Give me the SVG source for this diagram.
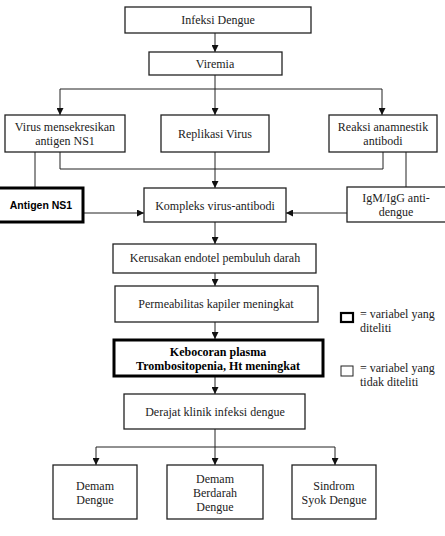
<svg xmlns="http://www.w3.org/2000/svg" width="445" height="536" viewBox="0 0 445 536">
<style>
.box{fill:#fff;stroke:#222;stroke-width:1.3}
.thick{fill:#fff;stroke:#000;stroke-width:3}
.t{font-family:"Liberation Serif","Times New Roman",serif;font-size:12px;fill:#222;text-anchor:middle}
.b{font-weight:bold;fill:#000}
.l{text-anchor:start}
.c{fill:none;stroke:#222;stroke-width:1}
</style>
<defs>
<marker id="ah" viewBox="0 0 8 8" refX="8" refY="4" markerWidth="7" markerHeight="7" markerUnits="userSpaceOnUse" orient="auto">
<path d="M0,0 L8,4 L0,8 Z" fill="#111"/>
</marker>
</defs>
<rect width="445" height="536" fill="#fff"/>
<g id="connectors">
<path class="c" d="M215,33 V52" marker-end="url(#ah)"/>
<path class="c" d="M215,75 V115" marker-end="url(#ah)"/>
<path class="c" d="M60,89 H382"/>
<path class="c" d="M60,89 V115" marker-end="url(#ah)"/>
<path class="c" d="M382,89 V115" marker-end="url(#ah)"/>
<path class="c" d="M60,152 V169 H383 V152"/>
<path class="c" d="M215,152 V188" marker-end="url(#ah)"/>
<path class="c" d="M35,152 V187"/>
<path class="c" d="M406,152 V187"/>
<path class="c" d="M83,213 H144" marker-end="url(#ah)"/>
<path class="c" d="M347,213 H286" marker-end="url(#ah)"/>
<path class="c" d="M215,222 V244" marker-end="url(#ah)"/>
<path class="c" d="M215,273 V286" marker-end="url(#ah)"/>
<path class="c" d="M215,322 V339" marker-end="url(#ah)"/>
<path class="c" d="M215,377 V394" marker-end="url(#ah)"/>
<path class="c" d="M215,429 V465" marker-end="url(#ah)"/>
<path class="c" d="M96,447 H335"/>
<path class="c" d="M96,447 V465" marker-end="url(#ah)"/>
<path class="c" d="M335,447 V465" marker-end="url(#ah)"/>
</g>
<g id="infeksi"><rect class="box" x="125" y="7" width="186" height="26"/><text class="t" x="218" y="24">Infeksi Dengue</text></g>
<g id="viremia"><rect class="box" x="149" y="52" width="133" height="23"/><text class="t" x="215" y="68">Viremia</text></g>
<g id="virus"><rect class="box" x="5" y="115" width="120" height="37"/><text class="t" x="65" y="131">Virus mensekresikan</text><text class="t" x="65" y="145">antigen NS1</text></g>
<g id="replikasi"><rect class="box" x="161" y="115" width="108" height="37"/><text class="t" x="215" y="138">Replikasi Virus</text></g>
<g id="reaksi"><rect class="box" x="329" y="115" width="108" height="37"/><text class="t" x="383" y="131">Reaksi anamnestik</text><text class="t" x="383" y="145">antibodi</text></g>
<g id="ns1"><rect class="thick" x="-2" y="188" width="85" height="34"/><text class="t b" x="41" y="209" style="font-family:'Liberation Sans',Arial,sans-serif;font-size:10.5px">Antigen NS1</text></g>
<g id="kompleks"><rect class="box" x="144" y="188" width="142" height="34"/><text class="t" x="215" y="210">Kompleks virus-antibodi</text></g>
<g id="igm"><rect class="box" x="347" y="187" width="100" height="35"/><text class="t" x="396" y="202">IgM/IgG anti-</text><text class="t" x="396" y="216">dengue</text></g>
<g id="kerusakan"><rect class="box" x="113" y="244" width="203" height="29"/><text class="t" x="215" y="262">Kerusakan endotel pembuluh darah</text></g>
<g id="permeabilitas"><rect class="box" x="115" y="286" width="203" height="36"/><text class="t" x="216" y="308">Permeabilitas kapiler meningkat</text></g>
<g id="kebocoran"><rect class="thick" x="114" y="340" width="209" height="36"/><text class="t b" x="218" y="356">Kebocoran plasma</text><text class="t b" x="218" y="370">Trombositopenia, Ht meningkat</text></g>
<g id="derajat"><rect class="box" x="124" y="394" width="181" height="35"/><text class="t" x="215" y="416">Derajat klinik infeksi dengue</text></g>
<g id="dd"><rect class="box" x="53" y="465" width="84" height="54"/><text class="t" x="95" y="490">Demam</text><text class="t" x="95" y="504">Dengue</text></g>
<g id="dbd"><rect class="box" x="167" y="465" width="96" height="54"/><text class="t" x="215" y="483">Demam</text><text class="t" x="215" y="497">Berdarah</text><text class="t" x="215" y="511">Dengue</text></g>
<g id="ssd"><rect class="box" x="292" y="465" width="84" height="54"/><text class="t" x="334" y="490">Sindrom</text><text class="t" x="334" y="504">Syok Dengue</text></g>
<g id="legend">
<rect x="341" y="313" width="12" height="9" fill="#fff" stroke="#000" stroke-width="2.2"/>
<text class="t l" x="360" y="318">= variabel yang</text>
<text class="t l" x="360" y="332">diteliti</text>
<rect x="341" y="366" width="12" height="10" fill="#fff" stroke="#222" stroke-width="1"/>
<text class="t l" x="360" y="372">= variabel yang</text>
<text class="t l" x="360" y="386">tidak diteliti</text>
</g>
</svg>
